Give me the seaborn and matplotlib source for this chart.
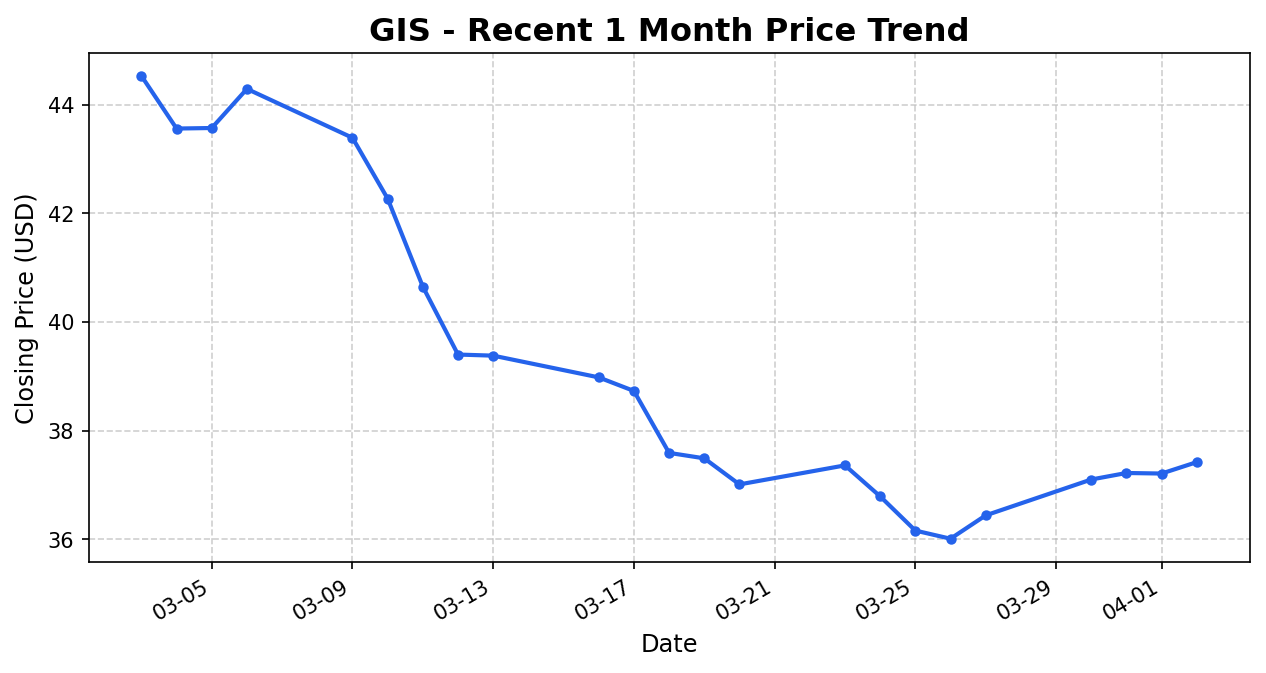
import seaborn as sns
import pandas as pd
import matplotlib.pyplot as plt
import matplotlib.dates as mdates

dates = ["2026-03-03", "2026-03-04", "2026-03-05", "2026-03-06", "2026-03-09", "2026-03-10",
         "2026-03-11", "2026-03-12", "2026-03-13", "2026-03-16", "2026-03-17", "2026-03-18",
         "2026-03-19", "2026-03-20", "2026-03-23", "2026-03-24", "2026-03-25", "2026-03-26",
         "2026-03-27", "2026-03-30", "2026-03-31", "2026-04-01", "2026-04-02"]
closes = [44.53, 43.56, 43.57, 44.29, 43.39, 42.27, 40.65, 39.40, 39.38, 38.98, 38.73, 37.59,
          37.49, 37.01, 37.36, 36.79, 36.16, 36.01, 36.44, 37.10, 37.22, 37.21, 37.42]

df = pd.DataFrame({"Date": pd.to_datetime(dates), "Close": closes})

fig, ax = plt.subplots(figsize=(8.44, 4.49), dpi=150)
sns.lineplot(data=df, x="Date", y="Close", ax=ax, color="#2563eb", linewidth=2,
             marker="o", markersize=5, markeredgewidth=0)

ax.set_title("GIS - Recent 1 Month Price Trend", fontsize=15.5, fontweight="bold")
ax.set_xlabel("Date", fontsize=11.5)
ax.set_ylabel("Closing Price (USD)", fontsize=11.5)
ax.grid(True, linestyle="--", alpha=0.6)
ax.xaxis.set_major_locator(mdates.DayLocator(bymonthday=[1, 5, 9, 13, 17, 21, 25, 29]))
ax.xaxis.set_major_formatter(mdates.DateFormatter("%m-%d"))
plt.setp(ax.get_xticklabels(), rotation=30, ha="right")

fig.subplots_adjust(left=0.070, right=0.987, top=0.921, bottom=0.165)
fig.savefig("out.png", dpi=150)
